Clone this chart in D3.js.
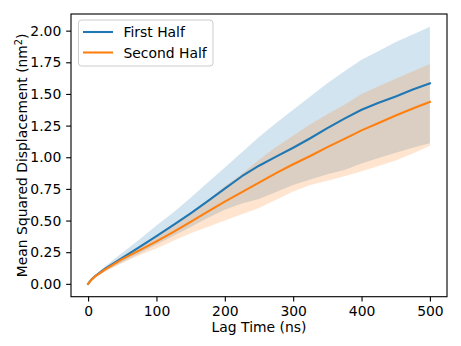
<!DOCTYPE html>
<html>
<head>
<meta charset="utf-8">
<script src="https://cdn.jsdelivr.net/npm/d3@7"></script>
<style>
  html, body { margin: 0; padding: 0; background: #fff; }
  svg { display: block; font-family: "DejaVu Sans", sans-serif; }
</style>
</head>
<body>
<svg id="chart" width="461" height="346"></svg>
<script>
// ---- data ----
const lagTimes = [0, 5, 10, 25, 50, 75, 100, 125, 150, 175, 200, 225, 250, 275, 300, 325, 350, 375, 400, 425, 450, 475, 500];
const firstMean  = [0, 0.035, 0.06, 0.12, 0.205, 0.29, 0.377, 0.465, 0.556, 0.654, 0.752, 0.85, 0.933, 1.005, 1.075, 1.15, 1.23, 1.305, 1.375, 1.43, 1.48, 1.535, 1.584];
const firstUpper = [0, 0.04, 0.07, 0.14, 0.245, 0.35, 0.46, 0.565, 0.68, 0.80, 0.92, 1.04, 1.16, 1.27, 1.375, 1.48, 1.585, 1.68, 1.77, 1.84, 1.91, 1.97, 2.03];
const firstLower = [0, 0.03, 0.05, 0.10, 0.17, 0.24, 0.31, 0.38, 0.45, 0.52, 0.585, 0.635, 0.67, 0.725, 0.78, 0.825, 0.865, 0.90, 0.95, 0.995, 1.035, 1.075, 1.11];
const secondMean  = [0, 0.033, 0.057, 0.115, 0.195, 0.265, 0.335, 0.41, 0.49, 0.57, 0.65, 0.725, 0.80, 0.875, 0.945, 1.01, 1.08, 1.145, 1.212, 1.27, 1.33, 1.385, 1.437];
const secondUpper = [0, 0.035, 0.062, 0.125, 0.215, 0.30, 0.38, 0.47, 0.56, 0.66, 0.77, 0.87, 0.98, 1.08, 1.17, 1.26, 1.34, 1.415, 1.50, 1.56, 1.62, 1.68, 1.737];
const secondLower = [0, 0.03, 0.05, 0.095, 0.165, 0.225, 0.28, 0.34, 0.40, 0.45, 0.50, 0.55, 0.60, 0.665, 0.73, 0.78, 0.815, 0.85, 0.89, 0.93, 0.975, 1.03, 1.09];
const seriesNames = ["First Half", "Second Half"];
const seriesColors = ["#1f77b4", "#ff7f0e"];
const xTicks = [0, 100, 200, 300, 400, 500];
const yTicks = [0, 0.25, 0.5, 0.75, 1.0, 1.25, 1.5, 1.75, 2.0];

// ---- layout ----
const svg = d3.select("#chart");
const L = 71, R = 447, T = 14, B = 296.7;
const fs = 13.9;

const x = d3.scaleLinear().domain([-25, 525]).range([L, R]);
const y = d3.scaleLinear().domain([-0.1015, 2.1315]).range([B, T]);

const series = [
  { name: seriesNames[0], color: seriesColors[0], mean: firstMean, lo: firstLower, hi: firstUpper },
  { name: seriesNames[1], color: seriesColors[1], mean: secondMean, lo: secondLower, hi: secondUpper }
];

const area = d3.area()
  .x(d => x(d.t)).y0(d => y(d.lo)).y1(d => y(d.hi));
const line = d3.line().x(d => x(d.t)).y(d => y(d.v));

const plot = svg.append("g");
series.forEach(s => {
  const pts = lagTimes.map((t, i) => ({ t, lo: s.lo[i], hi: s.hi[i] }));
  plot.append("path").attr("d", area(pts)).attr("fill", s.color).attr("fill-opacity", 0.2).attr("stroke", "none");
});
series.forEach(s => {
  const pts = lagTimes.map((t, i) => ({ t, v: s.mean[i] }));
  plot.append("path").attr("d", line(pts)).attr("fill", "none")
    .attr("stroke", s.color).attr("stroke-width", 2.08).attr("stroke-linejoin", "round").attr("stroke-linecap", "square");
});

// axes
const xAxis = d3.axisBottom(x).tickValues(xTicks).tickFormat(d3.format("d")).tickSize(4.86).tickPadding(4.86);
const yAxis = d3.axisLeft(y).tickValues(yTicks).tickFormat(d3.format(".2f")).tickSize(4.86).tickPadding(4.86);

const gx = svg.append("g").attr("transform", `translate(0,${B})`).call(xAxis);
const gy = svg.append("g").attr("transform", `translate(${L},0)`).call(yAxis);
[gx, gy].forEach(g => {
  g.select(".domain").remove();
  g.selectAll(".tick line").attr("stroke", "#000").attr("stroke-width", 1.11);
  g.selectAll(".tick text").attr("fill", "#000").style("font-size", fs + "px").style("font-family", "DejaVu Sans");
});

// spines
svg.append("rect").attr("x", L).attr("y", T).attr("width", R - L).attr("height", B - T)
  .attr("fill", "none").attr("stroke", "#000").attr("stroke-width", 1.11);

// axis labels
svg.append("text").attr("x", (L + R) / 2).attr("y", 332).attr("text-anchor", "middle")
  .style("font-size", fs + "px").text("Lag Time (ns)");

const yl = svg.append("text")
  .attr("transform", `translate(27,${(T + B) / 2}) rotate(-90)`)
  .attr("text-anchor", "middle").style("font-size", fs + "px");
yl.append("tspan").text("Mean Squared Displacement (nm");
yl.append("tspan").attr("dy", -5.5).style("font-size", (fs * 0.7) + "px").text("2");
yl.append("tspan").attr("dy", 5.5).text(")");

// legend
const lg = svg.append("g");
lg.append("rect").attr("x", 78.5).attr("y", 20).attr("width", 134.5).attr("height", 46)
  .attr("rx", 3).attr("fill", "#fff").attr("fill-opacity", 0.8)
  .attr("stroke", "#cccccc").attr("stroke-width", 1);
series.forEach((s, i) => {
  const yy = 32 + i * 20.5;
  lg.append("line").attr("x1", 83).attr("x2", 113).attr("y1", yy).attr("y2", yy)
    .attr("stroke", s.color).attr("stroke-width", 2.08);
  lg.append("text").attr("x", 123.5).attr("y", yy + 5).style("font-size", fs + "px").text(s.name);
});
</script>
</body>
</html>
